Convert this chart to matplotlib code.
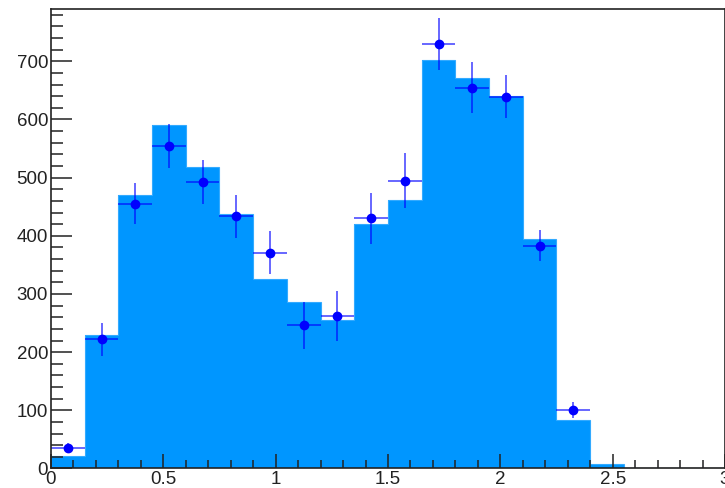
import numpy as np
import matplotlib
matplotlib.use("Agg")
import matplotlib.pyplot as plt
from matplotlib.ticker import MultipleLocator

# histogram: 20 bins of width 0.15 on [0, 3]
bin_edges = np.linspace(0.0, 3.0, 21)
hist_counts = [22, 229, 471, 591, 518, 437, 325, 286, 256, 421,
               461, 703, 672, 640, 395, 84, 7, 0, 0, 0]

# data points with errors (first 16 bins)
data_vals = [36, 222, 455, 555, 493, 434, 371, 246, 262, 430,
             495, 730, 655, 639, 383, 101]
data_errs = [8, 28, 35, 38, 38, 37, 37, 41, 43, 44,
             48, 45, 44, 37, 27, 14]

FILL = "#0096ff"
MARK = "#0000ff"

fig = plt.figure(figsize=(7.25, 4.88), dpi=100)
ax = fig.add_axes([0.0703, 0.040, 0.9297, 0.9416])

ax.stairs(hist_counts, bin_edges, fill=True, color=FILL, lw=0)
ax.stairs(hist_counts, bin_edges, color="#33aaff", lw=0.8)

centers = 0.5 * (bin_edges[:-1] + bin_edges[1:])
n = len(data_vals)
ax.errorbar(centers[:n], data_vals, yerr=data_errs, xerr=0.075,
            fmt="none", ecolor=MARK, elinewidth=1.4, alpha=0.6, capsize=0)
ax.plot(centers[:n], data_vals, "o", color=MARK, ms=6, mec=MARK)

ax.set_xlim(0, 3)
ax.set_ylim(0, 790)

ax.xaxis.set_major_locator(MultipleLocator(0.5))
ax.xaxis.set_minor_locator(MultipleLocator(0.1))
ax.yaxis.set_major_locator(MultipleLocator(100))
ax.yaxis.set_minor_locator(MultipleLocator(20))
ax.xaxis.set_major_formatter(plt.FuncFormatter(lambda v, p: f"{v:g}"))

ax.tick_params(which="both", direction="in", top=False, right=False,
               labelsize=13.5, colors="#222222", width=1.1)
ax.tick_params(axis="y", which="major", length=15, pad=2)
ax.tick_params(axis="y", which="minor", length=8.5)
ax.tick_params(axis="x", which="major", length=10, pad=2)
ax.tick_params(axis="x", which="minor", length=5.5)
for lab in ax.get_xticklabels() + ax.get_yticklabels():
    lab.set_fontfamily("Liberation Sans")

for s in ax.spines.values():
    s.set_color("#222222")
    s.set_linewidth(1.2)

fig.savefig("out.png", dpi=100)
